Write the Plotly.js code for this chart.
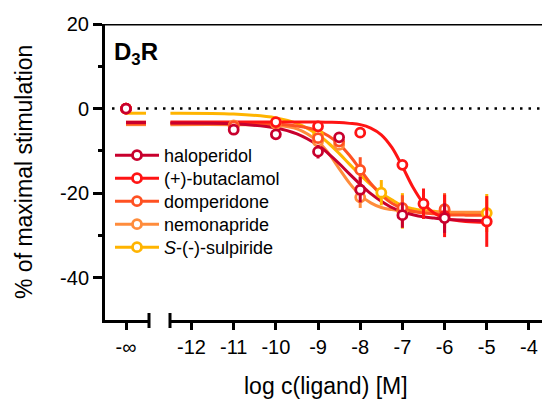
<!DOCTYPE html>
<html><head><meta charset="utf-8">
<script src="https://cdn.plot.ly/plotly-3.0.1.min.js"></script>
<style>html,body{margin:0;padding:0;background:#fff}#chart{width:542px;height:403px}</style>
</head><body><div id="chart"></div>
<script>
// ---- data ----
const seriesNames  = ['haloperidol', '(+)-butaclamol', 'domperidone', 'nemonapride', '<i>S</i>-(-)-sulpiride'];
const seriesColors = ['#C8002D', '#FF1414', '#FF5122', '#FF8C3C', '#FFB400'];

// x tick labels
const mainTickVals  = [-12, -11, -10, -9, -8, -7, -6, -5, -4];
const mainTickText  = ['-12', '-11', '-10', '-9', '-8', '-7', '-6', '-5', '-4'];
const infTickVals   = [0];
const infTickText   = ['-∞'];
const yTickVals     = [-40, -20, 0, 20];
const yTickText     = ['-40', '-20', '0', '20'];

// baseline (no ligand, "-∞") points and fitted top at -∞
const infX       = [0];
const infY       = [0, 0, 0, 0, 0];
const dashX      = [0, 20];
const dashTop    = [-3.3, -3.2, -3.6, -3.8, -1.1];

// fitted curves
const curveX = [-12.5, -11, -10, -9.5, -9, -8.75, -8.5, -8.25, -8, -7.75, -7.5, -7.25, -7, -6.75, -6.5, -6.25, -6, -5.5, -5];
const haloCurve = [-3.4, -3.6, -4.6, -6.0, -8.7, -10.7, -13.0, -15.5, -17.9, -20.1, -21.9, -23.4, -24.4, -25.1, -25.6, -25.9, -26.2, -26.4, -26.5];
const butaCurve = [-3.2, -3.2, -3.2, -3.2, -3.2, -3.25, -3.3, -3.5, -3.8, -4.6, -6.2, -9.2, -13.7, -18.6, -22.4, -24.7, -25.9, -26.7, -26.9];
const dompCurve = [-3.6, -3.6, -3.7, -4.1, -5.2, -6.5, -8.4, -11.1, -14.4, -17.7, -20.4, -22.4, -23.6, -24.3, -24.7, -24.9, -25.1, -25.2, -25.2];
const nemoCurve = [-3.8, -3.8, -4.0, -4.8, -7.8, -10.6, -14.2, -17.7, -20.5, -22.3, -23.4, -23.9, -24.2, -24.35, -24.4, -24.5, -24.5, -24.5, -24.5];
const sulpCurve = [-1.1, -1.3, -2.2, -3.5, -6.2, -8.2, -10.6, -13.2, -15.7, -18.0, -20.0, -21.6, -23.0, -23.7, -24.1, -24.3, -24.5, -24.6, -24.7];

// measured points (mean, error)
const haloX = [-11, -10, -9, -8.5, -8, -7, -6];
const haloY = [-5.0, -6.1, -10.2, -6.8, -19.2, -25.2, -25.9];
const haloE = [0.6, 0.8, 1.6, 0.8, 3.0, 3.0, 3.5];
const butaX = [-10, -9, -8, -7, -6.5, -6, -5];
const butaY = [-3.2, -4.2, -5.7, -13.3, -22.5, -25.4, -26.7];
const butaE = [0.4, 0.5, 0.6, 0.8, 3.6, 5.0, 6.0];
const dompX = [-11, -9, -8.5, -8, -7, -6];
const dompY = [-4.2, -7.0, -7.8, -14.5, -23.5, -23.8];
const dompE = [0.5, 0.8, 1.0, 3.0, 3.0, 3.8];
const nemoX = [-11, -10, -9, -8.5, -8, -7, -6];
const nemoY = [-4.0, -3.6, -7.8, -8.6, -21.0, -24.2, -24.2];
const nemoE = [0.5, 0.5, 0.8, 0.8, 2.5, 2.0, 2.5];
const sulpX = [-9, -7.5, -7, -6, -5];
const sulpY = [-6.2, -19.9, -24.2, -24.3, -24.7];
const sulpE = [0.6, 3.0, 4.2, 4.0, 4.5];

const curves = [haloCurve, butaCurve, dompCurve, nemoCurve, sulpCurve];
const ptsX = [haloX, butaX, dompX, nemoX, sulpX];
const ptsY = [haloY, butaY, dompY, nemoY, sulpY];
const ptsE = [haloE, butaE, dompE, nemoE, sulpE];

// ---- build traces ----
const W = 542, H = 403;
const fx = p => p / W, fy = p => 1 - p / H;
const MS = 9, MLW = 2.8, LW = 3;
const FONT = 'Liberation Sans, Arial, sans-serif';

const traces = [];
// draw order: sulpiride first, haloperidol last (on top)
for (let i = seriesNames.length - 1; i >= 0; i--) {
  const c = seriesColors[i];
  traces.push({ x: dashX, y: [dashTop[i], dashTop[i]], xaxis: 'x', yaxis: 'y', mode: 'lines',
    line: { color: c, width: LW }, showlegend: false, hoverinfo: 'skip' });
  traces.push({ x: curveX, y: curves[i], xaxis: 'x2', yaxis: 'y', mode: 'lines',
    line: { color: c, width: LW, shape: 'spline', smoothing: 1 }, showlegend: false, hoverinfo: 'skip' });
}
for (let i = seriesNames.length - 1; i >= 0; i--) {
  const c = seriesColors[i];
  traces.push({ x: infX, y: [infY[i]], xaxis: 'x', yaxis: 'y', mode: 'markers',
    marker: { size: MS, color: '#fff', line: { color: c, width: MLW } }, showlegend: false });
  traces.push({ x: ptsX[i], y: ptsY[i], xaxis: 'x2', yaxis: 'y', mode: 'markers',
    error_y: { type: 'data', array: ptsE[i], visible: true, color: c, thickness: 3, width: 0 },
    marker: { size: MS, color: '#fff', line: { color: c, width: MLW } }, showlegend: false });
}
// legend entries, one legend box per row so the row spacing matches
const legendIds = ['legend', 'legend2', 'legend3', 'legend4', 'legend5'];
for (let i = 0; i < seriesNames.length; i++) {
  const c = seriesColors[i];
  traces.push({ x: [null], y: [null], xaxis: 'x', yaxis: 'y', mode: 'lines+markers', name: seriesNames[i],
    legend: legendIds[i], line: { color: c, width: LW },
    marker: { size: MS, color: '#fff', line: { color: c, width: MLW } } });
}

const axisCommon = {
  showline: true, linewidth: 3, linecolor: '#000', ticks: 'outside', tickwidth: 3, tickcolor: '#000',
  showgrid: false, zeroline: false, fixedrange: true, tickfont: { family: FONT, size: 20, color: '#000' }
};

const layout = {
  width: W, height: H, margin: { l: 0, r: 0, t: 0, b: 0 },
  paper_bgcolor: '#fff', plot_bgcolor: 'rgba(0,0,0,0)',
  font: { family: FONT, color: '#000' },
  showlegend: true,
  xaxis: Object.assign({}, axisCommon, { domain: [fx(105), fx(149)], range: [-21, 23], anchor: 'y',
    tickmode: 'array', tickvals: infTickVals, ticktext: infTickText, ticklen: 7 }),
  xaxis2: Object.assign({}, axisCommon, { domain: [fx(170), 1], range: [-12.51, -3.69], anchor: 'y',
    tickmode: 'array', tickvals: mainTickVals, ticktext: mainTickText, ticklen: 7 }),
  yaxis: Object.assign({}, axisCommon, { domain: [fy(320), fy(24)], range: [-50, 20], anchor: 'x',
    tickmode: 'array', tickvals: yTickVals, ticktext: yTickText, ticklen: 9,
    minor: { tickmode: 'array', tickvals: [-30, -10, 10], ticks: 'outside', ticklen: 4, tickwidth: 3, tickcolor: '#000' } }),
  shapes: [
    { type: 'line', xref: 'paper', yref: 'y', x0: fx(104), x1: 1, y0: 20, y1: 20, line: { color: '#000', width: 3 } },
    { type: 'line', xref: 'paper', yref: 'y', x0: fx(112), x1: 1, y0: 0, y1: 0, layer: 'below',
      line: { color: '#000', width: 2.5, dash: '2.5px,6px' } },
    { type: 'line', xref: 'paper', yref: 'paper', x0: fx(149), x1: fx(149), y0: fy(313), y1: fy(328), line: { color: '#000', width: 3 } },
    { type: 'line', xref: 'paper', yref: 'paper', x0: fx(170), x1: fx(170), y0: fy(313), y1: fy(328), line: { color: '#000', width: 3 } }
  ],
  annotations: [
    { xref: 'paper', yref: 'paper', x: fx(112), y: fy(53), xanchor: 'left', yanchor: 'middle', showarrow: false,
      text: '<b>D<sub>3</sub>R</b>', font: { family: FONT, size: 24, color: '#000' } },
    { xref: 'paper', yref: 'paper', x: fx(326), y: fy(386), xanchor: 'center', yanchor: 'middle', showarrow: false,
      text: 'log c(ligand) [M]', font: { family: FONT, size: 23, color: '#000' } },
    { xref: 'paper', yref: 'paper', x: fx(24), y: fy(172), xanchor: 'center', yanchor: 'middle', showarrow: false,
      textangle: -90, text: '% of maximal stimulation', font: { family: FONT, size: 23, color: '#000' } }
  ]
};
legendIds.forEach((id, i) => {
  layout[id] = { x: fx(110), xanchor: 'left', y: fy(137 + 23 * i), yanchor: 'top',
    font: { family: FONT, size: 18, color: '#000' }, itemwidth: 44, bgcolor: 'rgba(0,0,0,0)' };
});

Plotly.newPlot('chart', traces, layout, { displayModeBar: false, staticPlot: true });
</script></body></html>
